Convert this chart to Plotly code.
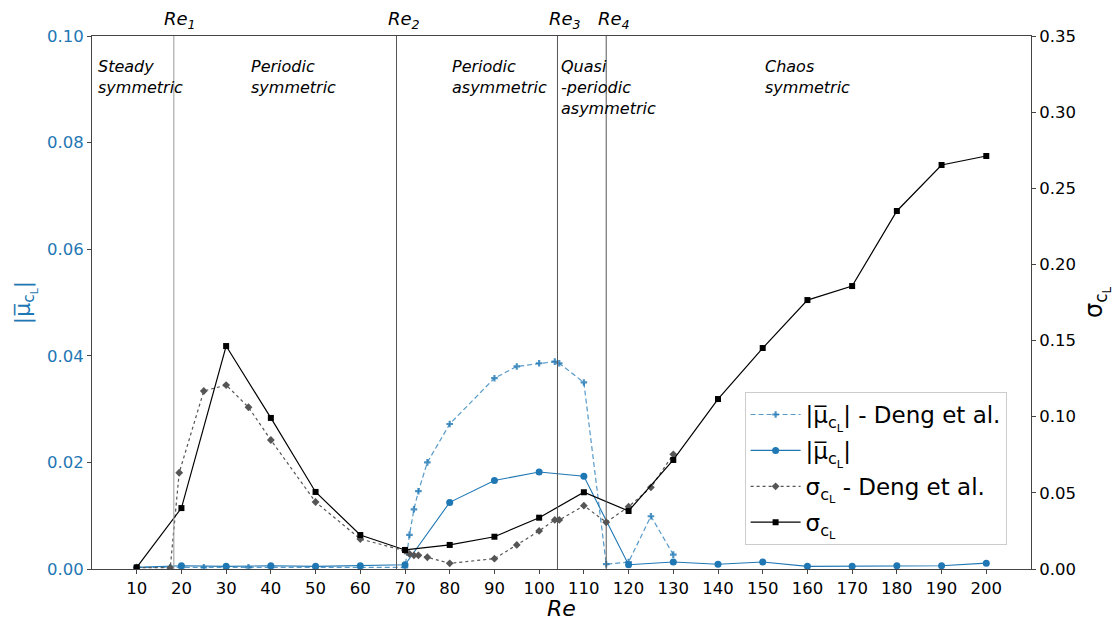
import plotly.graph_objects as go

# ---- data ----
re_ours = [10, 20, 30, 40, 50, 60, 70, 80, 90, 100, 110, 120, 130, 140, 150, 160, 170, 180, 190, 200]
mu_ours = [0.0003, 0.0006, 0.0005, 0.0006, 0.0005, 0.0006, 0.0008, 0.0125, 0.0166, 0.0182, 0.0174,
           0.0008, 0.0013, 0.0009, 0.0013, 0.0005, 0.0005, 0.0006, 0.0006, 0.0011]
sigma_ours = [0.001, 0.040, 0.1464, 0.0992, 0.0506, 0.0223, 0.0125, 0.0158, 0.0212, 0.0337, 0.0504,
              0.0381, 0.0716, 0.1116, 0.1451, 0.1766, 0.1858, 0.2351, 0.2653, 0.2712]

re_deng_mu = [10, 17.5, 20, 25, 30, 35, 40, 50, 60, 70, 71, 72, 73, 75, 80, 90, 95, 100, 103.5, 104.5,
              110, 115, 120, 125, 130]
mu_deng = [0.0003, 0.0003, 0.0003, 0.0003, 0.0003, 0.0003, 0.0003, 0.0003, 0.0003, 0.0003,
           0.0064, 0.0112, 0.0146, 0.0200, 0.0272, 0.0358, 0.0380, 0.0386, 0.0389, 0.0386,
           0.0350, 0.0009, 0.0013, 0.0099, 0.0027]

re_deng_sig = [10, 17.5, 19.5, 25, 30, 35, 40, 50, 60, 70, 71, 72, 73, 75, 80, 90, 95, 100, 103.5, 104.5,
               110, 115, 120, 125, 130]
sigma_deng = [0.001, 0.0008, 0.0632, 0.1169, 0.1208, 0.1062, 0.0847, 0.0440, 0.0197, 0.0120,
              0.0099, 0.0090, 0.0090, 0.0077, 0.0037, 0.0068, 0.0158, 0.0250, 0.0322, 0.0322,
              0.0416, 0.0307, 0.0409, 0.0536, 0.0753]

re_crit = [18.3, 68.1, 104.1, 115.0]
re_crit_labels = ["Re<sub>1</sub>", "Re<sub>2</sub>", "Re<sub>3</sub>", "Re<sub>4</sub>"]
re_crit_label_x = [19.6, 69.8, 105.8, 116.8]
crit_colors = ["#999999", "#555555", "#555555", "#555555"]

regime_x = [1, 35, 80, 104.5, 150]
regime_text = ["Steady<br>symmetric", "Periodic<br>symmetric", "Periodic<br>asymmetric",
               "Quasi<br>-periodic<br>asymmetric", "Chaos<br>symmetric"]

x_ticks = list(range(10, 201, 10))
y1_ticks = [0, 0.02, 0.04, 0.06, 0.08, 0.10]
y2_ticks = [0, 0.05, 0.10, 0.15, 0.20, 0.25, 0.30, 0.35]

BLUE = "#1f77b4"
FONT = "DejaVu Sans"
MU = "|μ\u0305<sub>c<sub>L</sub></sub>|"
SIG = "σ<sub>c<sub>L</sub></sub>"

fig = go.Figure()
fig.add_trace(go.Scatter(x=re_deng_mu, y=mu_deng, mode="lines+markers", name=MU + " - Deng et al.",
                         legendgroup="a",
                         line=dict(color="rgba(31,119,180,0.75)", width=1.2, dash="5px,3px"),
                         marker=dict(symbol="cross", size=5.5, color="rgba(31,119,180,0.8)")))
fig.add_trace(go.Scatter(x=re_ours, y=mu_ours, mode="lines+markers", name=MU,
                         legendgroup="b",
                         line=dict(color=BLUE, width=1.1),
                         marker=dict(symbol="circle", size=7, color=BLUE)))
fig.add_trace(go.Scatter(x=re_deng_sig, y=sigma_deng, mode="lines+markers", name=SIG + " - Deng et al.",
                         yaxis="y2", legendgroup="c",
                         line=dict(color="#555555", width=1.2, dash="dot"),
                         marker=dict(symbol="diamond", size=6, color="#555555")))
fig.add_trace(go.Scatter(x=re_ours, y=sigma_ours, mode="lines+markers", name=SIG,
                         yaxis="y2", legendgroup="d",
                         line=dict(color="black", width=1.2),
                         marker=dict(symbol="square", size=6, color="black")))

shapes = []
for xc, col in zip(re_crit, crit_colors):
    shapes.append(dict(type="line", xref="x", yref="paper", x0=xc, x1=xc, y0=0, y1=1,
                       line=dict(color=col, width=1)))

annotations = []
for xl, t in zip(re_crit_label_x, re_crit_labels):
    annotations.append(dict(x=xl, y=1, xref="x", yref="paper", text="<i>" + t + "</i>",
                            showarrow=False, xanchor="center", yanchor="bottom", yshift=2,
                            font=dict(family=FONT, size=18, color="black")))
for xr, t in zip(regime_x, regime_text):
    annotations.append(dict(x=xr, y=0.965, xref="x", yref="paper", text="<i>" + t + "</i>",
                            showarrow=False, xanchor="left", yanchor="top", align="left",
                            font=dict(family=FONT, size=16, color="black")))

fig.update_layout(
    width=1115, height=621,
    margin=dict(l=92, r=84, t=36, b=52, autoexpand=False),
    plot_bgcolor="white", paper_bgcolor="white",
    font=dict(family=FONT, size=16, color="black"),
    showlegend=True,
    legend=dict(x=0.695, y=0.332, xanchor="left", yanchor="top",
                bgcolor="rgba(255,255,255,0.85)", bordercolor="#cccccc", borderwidth=1,
                font=dict(family=FONT, size=23, color="black"), itemwidth=50,
                tracegroupgap=3, traceorder="grouped"),
    xaxis=dict(range=[0, 210], tickvals=x_ticks, ticktext=[str(v) for v in x_ticks],
               automargin=False,
               showgrid=False, zeroline=False, showline=True, linecolor="#444444", linewidth=1,
               mirror=True, ticks="outside", ticklen=4, tickcolor="#444444",
               tickfont=dict(family=FONT, size=16.5, color="black"),
               title=dict(text="<i>Re</i>", font=dict(family=FONT, size=22, color="black"), standoff=4)),
    yaxis=dict(range=[0, 0.1], tickvals=y1_ticks, tickformat=".2f", automargin=False,
               showgrid=False, zeroline=False, showline=True, linecolor="#444444", linewidth=1,
               ticks="outside", ticklen=4, tickcolor="#444444",
               tickfont=dict(family=FONT, size=16.5, color=BLUE),
               title=dict(text=MU, font=dict(family=FONT, size=22, color=BLUE), standoff=10)),
    yaxis2=dict(range=[0, 0.35], tickvals=y2_ticks, tickformat=".2f", overlaying="y", side="right",
                automargin=False,
                showgrid=False, zeroline=False, showline=True, linecolor="#444444", linewidth=1,
                ticks="outside", ticklen=4, tickcolor="#444444",
                tickfont=dict(family=FONT, size=16.5, color="black"),
                title=dict(text=SIG, font=dict(family=FONT, size=24, color="black"), standoff=10)),
    shapes=shapes,
    annotations=annotations,
)

fig.write_html("out.html")
